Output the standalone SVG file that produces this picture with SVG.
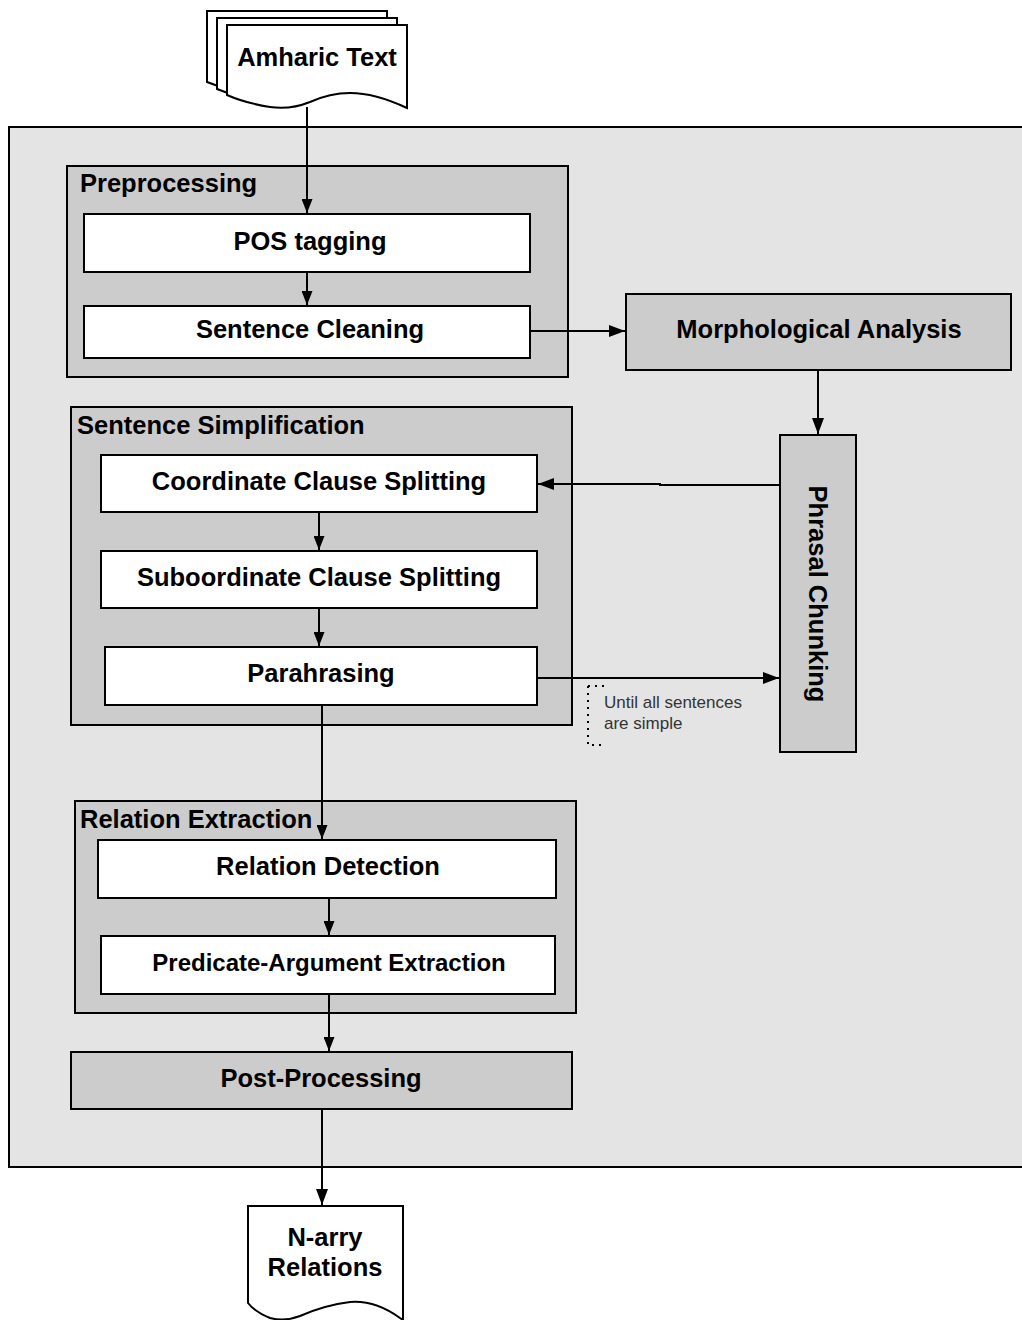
<svg xmlns="http://www.w3.org/2000/svg" width="1022" height="1320" viewBox="0 0 1022 1320">
<style>
.b{font-family:"Liberation Sans",Arial,sans-serif;font-weight:bold;font-size:25.5px;fill:#000}
.c{text-anchor:middle;dominant-baseline:central}
.grp{fill:#cccccc;stroke:#000;stroke-width:2}
.wht{fill:#ffffff;stroke:#000;stroke-width:2}
.doc{fill:#ffffff;stroke:#000;stroke-width:2}
.ln{fill:none;stroke:#000;stroke-width:2}
.note{font-family:"Liberation Sans",Arial,sans-serif;font-size:17px;fill:#333}
</style>
<defs>
<marker id="ah2" viewBox="0 0 16 12" refX="16" refY="6" markerWidth="16" markerHeight="12" markerUnits="userSpaceOnUse" orient="auto">
<path d="M0,0 L16,6 L0,12 z" fill="#000"/>
</marker>
<marker id="ah" viewBox="0 0 14 11" refX="14" refY="5.5" markerWidth="14" markerHeight="11" markerUnits="userSpaceOnUse" orient="auto">
<path d="M0,0 L14,5.5 L0,11 z" fill="#000"/>
</marker>
</defs>
<rect width="1022" height="1320" fill="#fff"/>
<g id="outer">
<path d="M1030,127 L9,127 L9,1167 L1030,1167" fill="#e4e4e4" stroke="#000" stroke-width="2"/>
</g>
<g id="amharic-text">
<path class="doc" d="M207,11 L387,11 L387,80 Q330,70 280,88 Q240,96 207,82 Z"/>
<path class="doc" d="M217,18 L397,18 L397,88 Q340,78 290,95 Q250,103 217,89 Z"/>
<path class="doc" d="M227,25 L407,25 L407,108 Q375,93 350,93 Q330,93 310,102 Q290,110 270,107 Q245,103 227,95 Z"/>
<text class="b c" x="317" y="57">Amharic Text</text>
</g>
<g id="preprocessing">
<rect class="grp" x="67" y="166" width="501" height="211"/>
<text class="b" x="80" y="192">Preprocessing</text>
</g>
<g id="pos-tagging">
<rect class="wht" x="84" y="214" width="446" height="58"/>
<text class="b c" x="310" y="241">POS tagging</text>
</g>
<g id="sentence-cleaning">
<rect class="wht" x="84" y="306" width="446" height="52"/>
<text class="b c" x="310" y="329">Sentence Cleaning</text>
</g>
<g id="morphological-analysis">
<rect class="grp" x="626" y="294" width="385" height="76"/>
<text class="b c" x="819" y="329">Morphological Analysis</text>
</g>
<g id="sentence-simplification">
<rect class="grp" x="71" y="407" width="501" height="318"/>
<text class="b" x="77" y="434">Sentence Simplification</text>
</g>
<g id="coordinate-clause-splitting">
<rect class="wht" x="101" y="455" width="436" height="57"/>
<text class="b c" x="319" y="481">Coordinate Clause Splitting</text>
</g>
<g id="suboordinate-clause-splitting">
<rect class="wht" x="101" y="551" width="436" height="57"/>
<text class="b c" x="319" y="577">Suboordinate Clause Splitting</text>
</g>
<g id="parahrasing">
<rect class="wht" x="105" y="647" width="432" height="58"/>
<text class="b c" x="321" y="673">Parahrasing</text>
</g>
<g id="phrasal-chunking">
<rect class="grp" x="780" y="435" width="76" height="317"/>
<text class="b c" x="818" y="594" transform="rotate(90 818 594)">Phrasal Chunking</text>
</g>
<g id="annotation">
<path d="M588,686 L605,686 M588,686 L588,745 L605,745" fill="none" stroke="#000" stroke-width="2" stroke-dasharray="2,5"/>
<text class="note" x="604" y="708">Until all sentences</text>
<text class="note" x="604" y="729">are simple</text>
</g>
<g id="relation-extraction">
<rect class="grp" x="75" y="801" width="501" height="212"/>
<text class="b" x="80" y="828">Relation Extraction</text>
</g>
<g id="relation-detection">
<rect class="wht" x="98" y="840" width="458" height="58"/>
<text class="b c" x="328" y="866">Relation Detection</text>
</g>
<g id="predicate-argument-extraction">
<rect class="wht" x="101" y="936" width="454" height="58"/>
<text class="b c" x="329" y="962" style="font-size:24px">Predicate-Argument Extraction</text>
</g>
<g id="post-processing">
<rect class="grp" x="71" y="1052" width="501" height="57"/>
<text class="b c" x="321" y="1078">Post-Processing</text>
</g>
<g id="n-arry-relations">
<path class="doc" d="M248,1206 L403,1206 L403,1320 L400,1318 Q375,1300 350,1302 Q325,1305 300,1316 Q285,1322 270,1318 Q255,1312 248,1303 Z"/>
<text class="b c" x="325" y="1237">N-arry</text>
<text class="b c" x="325" y="1267">Relations</text>
</g>
<g id="connectors">
<path class="ln" d="M307,107 L307,213" marker-end="url(#ah)"/>
<path class="ln" d="M307,272 L307,305" marker-end="url(#ah)"/>
<path class="ln" d="M530,331 L625,331" marker-end="url(#ah2)"/>
<path class="ln" d="M818,370 L818,434" marker-end="url(#ah2)"/>
<path class="ln" d="M780,485 L660,485 L660,484 L538,484" marker-end="url(#ah2)"/>
<path class="ln" d="M319,512 L319,550" marker-end="url(#ah)"/>
<path class="ln" d="M319,608 L319,646" marker-end="url(#ah)"/>
<path class="ln" d="M537,678 L779,678" marker-end="url(#ah2)"/>
<path class="ln" d="M322,705 L322,839" marker-end="url(#ah)"/>
<path class="ln" d="M329,898 L329,935" marker-end="url(#ah)"/>
<path class="ln" d="M329,994 L329,1051" marker-end="url(#ah)"/>
<path class="ln" d="M322,1109 L322,1205" marker-end="url(#ah2)"/>
</g>
</svg>
